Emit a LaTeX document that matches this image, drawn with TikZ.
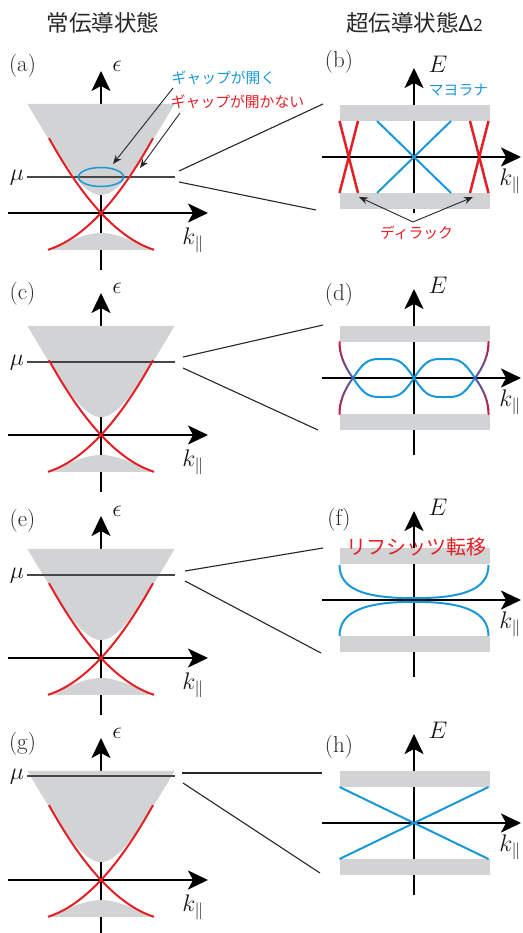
\RequirePackage{fix-cm}
\documentclass[tikz,border=0pt]{standalone}
\usepackage{fontspec}
\newfontfamily\jp{Noto Sans CJK JP}
\newfontfamily\lat{Noto Sans}
\usetikzlibrary{arrows.meta}
\definecolor{bandgray}{RGB}{209,211,212}
\definecolor{myred}{RGB}{228,30,37}
\definecolor{myblue}{RGB}{25,152,215}
\definecolor{mugray}{RGB}{70,70,70}
\definecolor{colA}{RGB}{70,100,175}
\definecolor{colB}{RGB}{205,20,55}

\newcommand\lpanel[4]{%
  \draw[ax] (101,{#2+57}) -- (101,{#2-142});
  \draw[ax] (8,#2) -- (208,#2);
  \begin{scope}[shift={(101,#2)}]
    \fill[bandgray] plot[domain=-73.5:73.5,samples=80] (\x,{-18-(10*sqrt(31.36+0.034225*(\x)*(\x))-56)}) -- cycle;
    \fill[bandgray] plot[domain=-52.5:52.5,samples=60] (\x,{20+(sqrt(139.24+0.25*(\x)*(\x))-11.8)}) -- cycle;
  \end{scope}
  \draw[muline] (27,#3) -- (175,#3);
  \begin{scope}[shift={(101,#2)}]
    \draw[redc] plot[domain=-53:52,samples=60] (\x,{-(0.0071*(\x)*(\x)+1.07*(\x))});
    \draw[redc] plot[domain=-52:53,samples=60] (\x,{-(0.0071*(\x)*(\x)-1.07*(\x))});
  \end{scope}
  \node[plab] (lab#1) at (22.5,#4) {(#1)};
  \node[mlab] (eps#1) at (117,{#2-147}) {$\epsilon$};
  \node[mlab] (mu#1) at (17,{#3+1}) {$\mu$};
  \node[mlab] (kl#1) at (193,{#2+27}) {$k_{\parallel}$};
}

\newcommand\rpanel[4]{%
  \draw[ax] (414,{#2+#3}) -- (414,{#2-89});
  \draw[ax] (322,#2) -- (521,#2);
  \fill[bandgray] (339.5,{#2-52}) rectangle (489.5,{#2-36});
  \fill[bandgray] (339.5,{#2+36}) rectangle (489.5,{#2+52});
  \node[plab] (lab#1) at (339,#4) {(#1)};
  \node[mlab] (E#1) at (438,{#2-93}) {$E$};
  \node[mlab] (kr#1) at (510,{#2+24}) {$k_{\parallel}$};
}

\begin{document}
\begin{tikzpicture}[x=1pt,y=-1pt,
  ax/.style={line width=2.3pt,-{Stealth[length=20pt,width=19pt,inset=5pt]}},
  redc/.style={draw=myred,line width=2pt},
  bluec/.style={draw=myblue,line width=2pt},
  muline/.style={draw=mugray,line width=1.2pt},
  conn/.style={draw=black!85,line width=1.1pt},
  ann/.style={draw=black!85,line width=0.9pt,-{Stealth[length=9pt,width=7pt]}},
  plab/.style={font=\fontsize{23}{27}\selectfont,text=black!85},
  mlab/.style={font=\fontsize{24}{28}\selectfont,text=black!90},
  ttl/.style={font=\jp\fontsize{22.5}{27}\selectfont,text=black!85},
  jps/.style={font=\jp\fontsize{14.8}{18}\selectfont},
]
\useasboundingbox (0,0) rectangle (522,933);

% titles
\node[ttl] (t1) at (103,23) {常伝導状態};
\node[ttl] (t2) at (414.5,23) {超伝導状態{\lat Δ\fontsize{17}{20}\selectfont 2}};

% left panels
\lpanel{a}{213}{177}{66}
\lpanel{c}{435}{362}{294}
\lpanel{e}{658}{575}{521}
\lpanel{g}{880}{776}{744}

% right panels
\rpanel{b}{157}{56}{62}
\rpanel{d}{378}{77}{295}
\rpanel{f}{600}{77}{520}
\rpanel{h}{823}{72}{747}

% (a) annotations
\draw[myblue,line width=1.5pt] (101,177) ellipse [x radius=22.5, y radius=9.5];
\node[jps,text=myblue] (gap1) at (223.5,78) {ギャップが開く};
\node[jps,text=myred] (gap2) at (237.5,102) {ギャップが開かない};
\coordinate (g1s) at (173,88); \coordinate (g1e) at (113,164);
\coordinate (g2s) at (180,113); \coordinate (g2e) at (140,168);
\draw[ann] (g1s) -- (g1e);
\draw[ann] (g2s) -- (g2e);

% (b) curves
\begin{scope}[shift={(414,157)}]
  \draw[myred,line width=2.5pt] (-74.5,-36) -- (-56,36);
  \draw[myred,line width=2.5pt] (-56,-36) -- (-74.5,36);
  \draw[myred,line width=2.5pt] (56,-36) -- (74.5,36);
  \draw[myred,line width=2.5pt] (74.5,-36) -- (56,36);
  \draw[bluec] (-37,-36) -- (37,36);
  \draw[bluec] (37,-36) -- (-37,36);
\end{scope}
\node[jps,text=myblue] (major) at (458.5,90) {マヨラナ};
\node[jps,text=myred] (dirac) at (416.5,233) {ディラック};
\coordinate (dsrc) at (413,222);
\coordinate (dL) at (359,197);
\coordinate (dR) at (473,197);
\draw[ann] (dsrc) -- (dL);
\draw[ann] (dsrc) -- (dR);

% (d) curves
\begin{scope}[shift={(414,378)}]
  \draw[bluec] plot[domain=-61:61,samples=120] (\x,{-21.375*(sin(180*(\x/61))+sin(540*(\x/61))/9)});
  \draw[bluec] plot[domain=-61:61,samples=120] (\x,{21.375*(sin(180*(\x/61))+sin(540*(\x/61))/9)});
  \foreach \sx/\sy in {1/1,1/-1,-1/1,-1/-1}{
    \foreach \i in {0,...,7}{
      \pgfmathtruncatemacro\p{(\i+0.5)*12.5}
      \pgfmathsetmacro\ta{\i/8}
      \pgfmathsetmacro\tb{(\i+1)/8}
      \draw[line width=2pt,line cap=round,draw=colB!\p!colA] plot[domain=\ta:\tb,samples=5,variable=\t] ({\sx*(61+13.5*(1-(1-\t)*(1-\t)))},{\sy*36*\t});
    }
  }
\end{scope}

% (f) curves
\begin{scope}[shift={(414,600)}]
  \draw[bluec] (-74.5,-35) .. controls (-74.5,-10) and (-48,-1.8) .. (0,-1.8) .. controls (48,-1.8) and (74.5,-10) .. (74.5,-35);
  \draw[bluec] (-74.5,36) .. controls (-74.5,11) and (-48,1.8) .. (0,1.8) .. controls (48,1.8) and (74.5,11) .. (74.5,36);
\end{scope}
\node[font=\jp\fontsize{20}{24}\selectfont,text=myred] (lif) at (416,547) {リフシッツ転移};

% (h) curves
\begin{scope}[shift={(414,823)}]
  \draw[bluec] (-74.5,-36) -- (74.5,36);
  \draw[bluec] (74.5,-36) -- (-74.5,36);
\end{scope}

% connectors
\coordinate (ca1) at (179,171); \coordinate (ca2) at (179,182);
\coordinate (cb1) at (323,104); \coordinate (cb2) at (316,210);
\coordinate (cc1) at (183,357); \coordinate (cc2) at (183,368);
\coordinate (cd1) at (323,325); \coordinate (cd2) at (318,430);
\coordinate (ce1) at (185,571); \coordinate (ce2) at (185,581);
\coordinate (cf1) at (323,548); \coordinate (cf2) at (321,653);
\coordinate (cg1) at (182,773); \coordinate (cg2) at (183,783);
\coordinate (ch1) at (322,773); \coordinate (ch2) at (320,873);
\draw[conn] (ca1) -- (cb1); \draw[conn] (ca2) -- (cb2);
\draw[conn] (cc1) -- (cd1); \draw[conn] (cc2) -- (cd2);
\draw[conn] (ce1) -- (cf1); \draw[conn] (ce2) -- (cf2);
\draw[conn] (cg1) -- (ch1); \draw[conn] (cg2) -- (ch2);
\end{tikzpicture}
\end{document}
